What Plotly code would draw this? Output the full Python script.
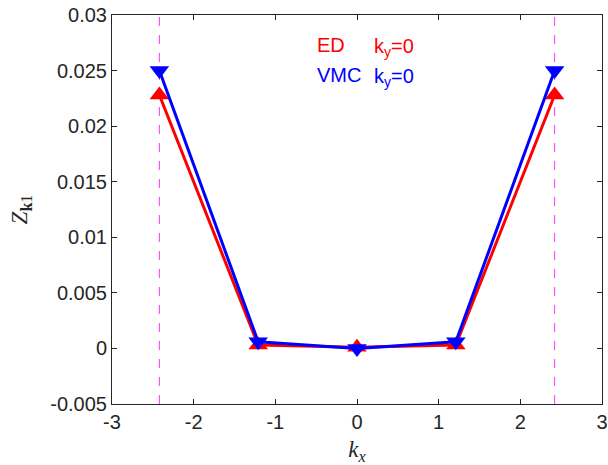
import plotly.graph_objects as go

kx = [-2.42, -1.21, 0.0, 1.21, 2.42]
ed_vals = [0.0228, 0.0003, 0.0001, 0.0003, 0.0228]
vmc_vals = [0.0250, 0.0006, 0.0000, 0.0006, 0.0250]
dash_x = [-2.42, 2.42]
x_ticks = [-3, -2, -1, 0, 1, 2, 3]
y_ticks = [-0.005, 0, 0.005, 0.01, 0.015, 0.02, 0.025, 0.03]
y_tick_labels = ["-0.005", "0", "0.005", "0.01", "0.015", "0.02", "0.025", "0.03"]

fig = go.Figure()
for xv in dash_x:
    fig.add_trace(go.Scatter(x=[xv, xv], y=[-0.005, 0.03], mode="lines",
                             line=dict(color="#ff33ff", width=1, dash="dash"),
                             showlegend=False, hoverinfo="skip"))
fig.add_trace(go.Scatter(x=kx, y=ed_vals, mode="lines+markers", name="ED",
                         line=dict(color="#ff0000", width=3),
                         marker=dict(symbol="triangle-up", size=17, color="#ff0000"),
                         showlegend=False))
fig.add_trace(go.Scatter(x=kx, y=vmc_vals, mode="lines+markers", name="VMC",
                         line=dict(color="#0000ff", width=3),
                         marker=dict(symbol="triangle-down", size=17, color="#0000ff"),
                         showlegend=False))

lab_font = dict(size=20, family="Liberation Sans")
fig.add_annotation(x=-0.51, y=0.02728, xref="x", yref="y", text="ED", showarrow=False,
                   xanchor="left", yanchor="middle", font=dict(color="#ff0000", **lab_font))
fig.add_annotation(x=0.18, y=0.02728, xref="x", yref="y", text="k<sub>y</sub>=0",
                   showarrow=False, xanchor="left", yanchor="top", yshift=12,
                   font=dict(color="#ff0000", **lab_font))
fig.add_annotation(x=-0.51, y=0.02457, xref="x", yref="y", text="VMC", showarrow=False,
                   xanchor="left", yanchor="middle", font=dict(color="#0000ff", **lab_font))
fig.add_annotation(x=0.18, y=0.02457, xref="x", yref="y", text="k<sub>y</sub>=0",
                   showarrow=False, xanchor="left", yanchor="top", yshift=12,
                   font=dict(color="#0000ff", **lab_font))

axis_common = dict(showgrid=False, zeroline=False, showline=True, linecolor="#262626",
                   linewidth=1, mirror="ticks", ticks="inside", ticklen=5,
                   tickcolor="#262626", automargin=False,
                   tickfont=dict(size=20, color="#262626", family="Liberation Sans"))
fig.update_xaxes(range=[-3, 3], tickvals=x_ticks, ticktext=[str(t) for t in x_ticks],
                 title=dict(text="<i>k<sub>x</sub></i>", standoff=9,
                            font=dict(size=23, family="Liberation Serif", color="#262626")),
                 **axis_common)
fig.update_yaxes(range=[-0.005, 0.03], tickvals=y_ticks, ticktext=y_tick_labels,
                 title=dict(text="<i>Z</i><sub><b>k</b>1</sub>", standoff=16,
                            font=dict(size=23, family="Liberation Serif", color="#262626")),
                 **axis_common)
fig.update_layout(width=608, height=465, plot_bgcolor="white", paper_bgcolor="white",
                  margin=dict(l=112, r=6, t=15, b=61))
fig.write_html("out.html", config={"displayModeBar": False},
               post_script="document.body.style.margin='0';document.body.style.overflow='hidden';")
